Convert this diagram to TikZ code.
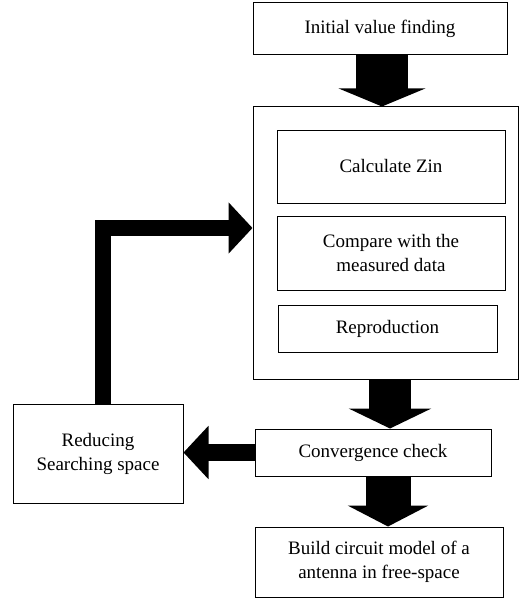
\documentclass[tikz,border=0pt]{standalone}
\usepackage{fontspec}
\setmainfont{Liberation Serif}
\usetikzlibrary{arrows.meta,calc}
\tikzset{
  boxnode/.style={draw=black, line width=1pt, inner sep=0pt, align=center,
    font=\fontsize{19}{24}\selectfont},
  blk/.style={line width=#1, draw=black, line join=miter},
}
\begin{document}
\begin{tikzpicture}[x=1pt,y=-1pt]
\useasboundingbox (0,0) rectangle (522,599);
\fill[white] (0,0) rectangle (522,599);
% boxes
\node[boxnode, minimum width=254pt, minimum height=52pt] (init) at (380,29) {Initial value finding};
\node[boxnode, minimum width=265pt, minimum height=272pt] (outer) at (385.5,243) {};
\node[boxnode, minimum width=228pt, minimum height=73pt] (calc) at (391,166.5) {Calculate Zin};
\node[boxnode, minimum width=228pt, minimum height=74pt] (cmp) at (391,253) {Compare with the\\measured data};
\node[boxnode, minimum width=219pt, minimum height=47pt] (repro) at (387.5,328.5) {Reproduction};
\node[boxnode, minimum width=236pt, minimum height=47pt] (conv) at (373,452.5) {Convergence check};
\node[boxnode, minimum width=248pt, minimum height=70pt] (build) at (379,562) {Build circuit model of a\\antenna in free-space};
\node[boxnode, minimum width=170pt, minimum height=99pt] (reduce) at (98,453.5) {Reducing\\Searching space};
% block arrows
\draw[blk=52pt, -{Triangle[width=86pt,length=18pt]}]
  ([xshift=2pt]init.south) -- ([xshift=2pt]init.south |- outer.north);
\draw[blk=42pt, -{Triangle[width=82pt,length=20pt]}]
  ([xshift=4.5pt]outer.south) -- ([xshift=4.5pt]outer.south |- conv.north);
\draw[blk=45pt, -{Triangle[width=80pt,length=21pt]}]
  ([xshift=15pt]conv.south) -- ([xshift=15pt]conv.south |- build.north);
\draw[blk=17pt, -{Triangle[width=52pt,length=25pt]}]
  (conv.west) -- (conv.west -| reduce.east);
\draw[blk=16pt, -{Triangle[width=50pt,length=24pt]}]
  ([xshift=4.5pt]reduce.north) |- ([yshift=15pt]outer.west);
\end{tikzpicture}
\end{document}
